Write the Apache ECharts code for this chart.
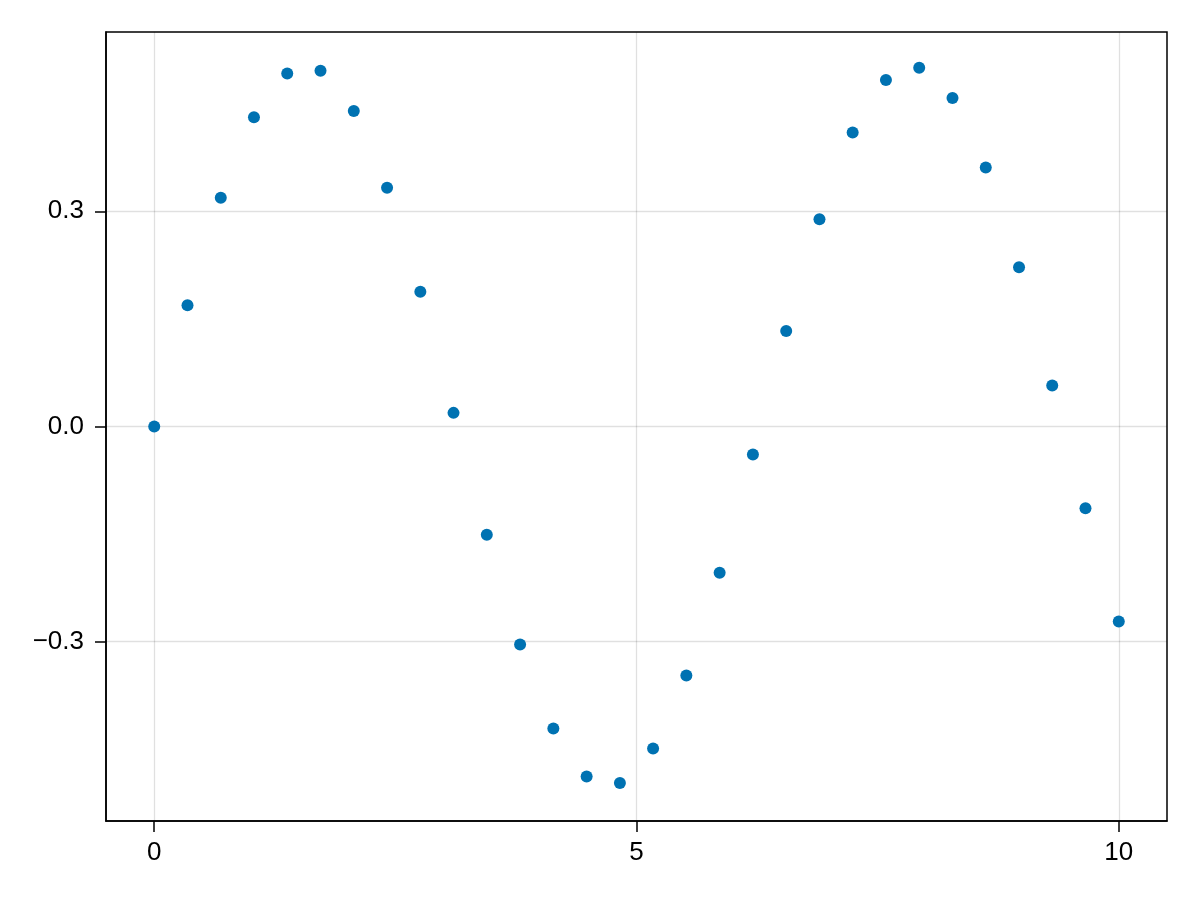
<!DOCTYPE html>
<html>
<head>
<meta charset="utf-8">
<script src="https://cdn.jsdelivr.net/npm/echarts@6/dist/echarts.min.js"></script>
<style>
    html, body { margin: 0; padding: 0; background: #fff; }
    #chart { width: 1200px; height: 900px; }
</style>
</head>
<body>
<div id="chart"></div>
<script>
// 数据
const xValues = [0, 0.345, 0.690, 1.034, 1.379, 1.724, 2.069, 2.414, 2.759, 3.103,
    3.448, 3.793, 4.138, 4.483, 4.828, 5.172, 5.517, 5.862, 6.207, 6.552,
    6.897, 7.241, 7.586, 7.931, 8.276, 8.621, 8.966, 9.310, 9.655, 10];
const yValues = [0, 0.169, 0.319, 0.431, 0.492, 0.496, 0.440, 0.333, 0.188, 0.019,
    -0.151, -0.304, -0.421, -0.488, -0.497, -0.449, -0.347, -0.204, -0.039, 0.133,
    0.289, 0.410, 0.483, 0.500, 0.458, 0.361, 0.222, 0.057, -0.114, -0.272];
const xTicks = [0, 5, 10];
const yTicks = [-0.3, 0, 0.3];

function initScatter() {
    const chart = echarts.init(document.getElementById('chart'));
    const points = xValues.map((x, i) => [x, yValues[i]]);
    const gridLine = { color: 'rgba(0,0,0,0.12)', width: 1.3 };
    const black = { color: '#000', width: 1.5 };
    const option = {
        animation: false,
        backgroundColor: '#fff',
        grid: {
            left: 106,
            right: 33,
            top: 32,
            bottom: 79,
            show: true,
            borderColor: '#000',
            borderWidth: 1.5
        },
        xAxis: {
            type: 'value',
            position: 'bottom',
            min: -0.5,
            max: 10.5,
            // onZero 指向不存在的轴，轴线留在底边
            axisLine: { show: true, onZero: true, onZeroAxisIndex: 9, lineStyle: black },
            axisTick: {
                show: true,
                customValues: xTicks,
                length: 11,
                lineStyle: black
            },
            axisLabel: {
                customValues: xTicks,
                margin: 19,
                color: '#000',
                fontSize: 26,
                fontFamily: 'Liberation Sans',
                formatter: v => String(v)
            },
            splitLine: { show: true, lineStyle: gridLine }
        },
        yAxis: {
            type: 'value',
            position: 'left',
            min: -0.55,
            max: 0.55,
            axisLine: { show: true, onZero: true, onZeroAxisIndex: 9, lineStyle: black },
            axisTick: {
                show: true,
                customValues: yTicks,
                length: 11,
                lineStyle: black
            },
            axisLabel: {
                customValues: yTicks,
                margin: 22,
                color: '#000',
                fontSize: 26,
                fontFamily: 'Liberation Sans',
                formatter: v => v.toFixed(1).replace('-', '\u2212')
            },
            splitLine: { show: true, lineStyle: gridLine }
        },
        series: [
            {
                type: 'scatter',
                data: points,
                symbolSize: 12,
                itemStyle: { color: '#0072B2', opacity: 1 }
            }
        ]
    };
    chart.setOption(option);
}

initScatter();
</script>
</body>
</html>
